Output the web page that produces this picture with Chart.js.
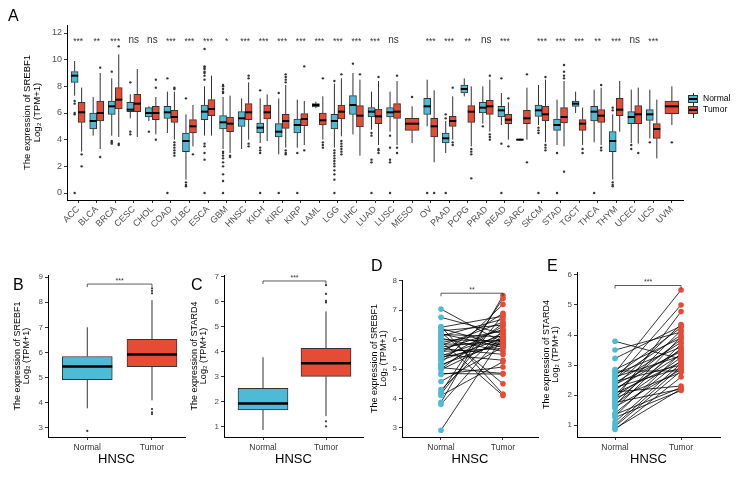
<!DOCTYPE html>
<html>
<head>
<meta charset="utf-8">
<script src="https://cdn.jsdelivr.net/npm/chart.js@4.4.1/dist/chart.umd.min.js"></script>
<style>
  body { margin: 0; background: #fff; width: 755px; height: 488px; position: relative; overflow: hidden;
         font-family: 'Liberation Sans', Arial, sans-serif; }
  canvas { position: absolute; }
  .tag { position: absolute; font-size: 16px; line-height: 16px; color: #000; }
  .legend { position: absolute; left: 688px; top: 93px; font-size: 8.5px; color: #000; }
  .legend .row { height: 11px; line-height: 11px; display: flex; align-items: center; }
  .key { position: relative; display: inline-block; width: 8px; height: 6px; border: 1px solid #333; margin-right: 5px; }
  .key::after { content: ''; position: absolute; left: 0; right: 0; top: 2.5px; height: 1.5px; background: #000; }
  .key::before { content: ''; position: absolute; left: 3.5px; top: -3px; width: 1px; height: 14px; background: #333; z-index: -1; }
</style>
</head>
<body>
<canvas id="cA" width="755" height="245" style="left:0;top:0"></canvas>
<canvas id="cB" width="190" height="225" style="left:0;top:250px"></canvas>
<canvas id="cC" width="180" height="225" style="left:185px;top:250px"></canvas>
<canvas id="cD" width="180" height="225" style="left:365px;top:250px"></canvas>
<canvas id="cE" width="215" height="225" style="left:540px;top:250px"></canvas>

<div class="tag" style="left:8px;top:8px">A</div>
<div class="tag" style="left:13px;top:277px">B</div>
<div class="tag" style="left:191px;top:277px">C</div>
<div class="tag" style="left:371px;top:258px">D</div>
<div class="tag" style="left:547px;top:258px">E</div>

<div class="legend">
  <div class="row"><span class="key" style="background:#4DBBD5"></span>Normal</div>
  <div class="row"><span class="key" style="background:#E64B35"></span>Tumor</div>
</div>

<script>
const BLUE = '#4DBBD5';
const RED = '#E64B35';
const FONT = "'Liberation Sans', Arial, sans-serif";

// ── Panel A data: SREBF1 across TCGA cancers ─────────────────────────────────
const cancers = ['ACC','BLCA','BRCA','CESC','CHOL','COAD','DLBC','ESCA','GBM','HNSC','KICH',
  'KIRC','KIRP','LAML','LGG','LIHC','LUAD','LUSC','MESO','OV','PAAD','PCPG','PRAD','READ',
  'SARC','SKCM','STAD','TGCT','THCA','THYM','UCEC','UCS','UVM'];
const signif = ['***','**','***','ns','ns','***','***','***','*','***','***','***','***','***',
  '***','***','***','ns','','***','***','**','ns','***','','***','***','***','**','***','ns','***',''];
// [lower whisker, q1, median, q3, upper whisker]
const normalBox = [
  [7.3, 8.3, 8.8, 9.1, 9.9], [4.3, 4.8, 5.4, 6.0, 7.2], [4.3, 5.9, 6.5, 6.9, 8.6],
  [5.6, 6.1, 6.25, 6.8, 7.4], [5.4, 5.7, 6.0, 6.4, 6.5], [4.5, 5.6, 6.05, 6.5, 7.6],
  [1.0, 3.1, 3.9, 4.5, 5.9], [4.3, 5.5, 6.1, 6.6, 8.0], [3.3, 4.8, 5.3, 5.8, 7.2],
  [3.3, 5.0, 5.6, 6.1, 7.1], [3.75, 4.5, 4.9, 5.25, 7.1], [2.9, 4.2, 4.6, 5.2, 7.1],
  [3.4, 4.5, 5.1, 5.55, 7.0], [6.35, 6.45, 6.6, 6.7, 6.85], [3.4, 4.8, 5.4, 5.9, 8.2],
  [4.4, 5.9, 6.6, 7.3, 9.0], [4.75, 5.7, 6.1, 6.4, 7.6], [4.6, 5.7, 6.05, 6.4, 7.6],
  null, [5.0, 5.9, 6.5, 7.1, 8.5], [3.0, 3.75, 4.1, 4.5, 5.4],
  [7.25, 7.5, 7.8, 8.1, 8.6], [5.2, 6.0, 6.4, 6.8, 8.0], [5.1, 5.7, 6.2, 6.5, 7.5],
  [3.95, 3.97, 4.0, 4.05, 4.08], [5.1, 5.75, 6.2, 6.6, 8.1], [3.6, 4.7, 5.1, 5.55, 7.0],
  [6.0, 6.5, 6.7, 6.9, 7.6], [3.8, 5.4, 6.1, 6.5, 7.75], [1.0, 3.1, 3.9, 4.6, 5.9],
  [3.75, 5.2, 5.7, 6.1, 7.75], [4.1, 5.45, 5.9, 6.25, 7.75], null
];
const tumorBox = [
  [3.1, 5.3, 6.05, 6.8, 7.9], [3.3, 5.4, 6.0, 6.9, 9.0], [4.2, 6.3, 7.0, 7.9, 10.4],
  [4.2, 6.1, 6.7, 7.4, 9.3], [4.4, 5.5, 6.0, 6.5, 7.2], [4.0, 5.3, 5.7, 6.2, 7.6],
  [3.5, 4.5, 5.0, 5.5, 6.6], [4.3, 5.8, 6.3, 7.0, 8.8], [3.0, 4.6, 5.2, 5.7, 7.3],
  [4.0, 5.5, 6.05, 6.7, 8.3], [3.9, 5.55, 6.05, 6.6, 7.4], [3.4, 4.85, 5.4, 5.9, 8.1],
  [3.6, 5.05, 5.55, 5.95, 6.9], [4.0, 5.1, 5.45, 6.0, 7.25], [4.25, 5.55, 6.1, 6.6, 8.6],
  [2.8, 4.95, 5.8, 6.55, 8.5], [3.6, 5.2, 5.75, 6.3, 8.4], [3.6, 5.6, 6.1, 6.7, 8.4],
  [3.75, 4.7, 5.2, 5.6, 6.5], [2.3, 4.2, 5.0, 5.6, 7.7], [4.0, 5.0, 5.4, 5.75, 7.25],
  [3.5, 5.3, 6.1, 6.55, 8.0], [4.6, 5.9, 6.5, 6.95, 8.5], [4.0, 5.2, 5.5, 5.9, 6.8],
  [4.0, 5.2, 5.6, 6.2, 7.9], [3.8, 5.4, 5.9, 6.5, 8.5], [3.5, 5.25, 5.7, 6.4, 8.4],
  [3.6, 4.7, 5.2, 5.5, 6.4], [3.6, 5.3, 5.8, 6.25, 7.9], [4.6, 5.8, 6.25, 7.1, 8.4],
  [3.7, 5.2, 5.9, 6.55, 7.9], [2.6, 4.1, 4.8, 5.2, 7.0], [5.1, 5.95, 6.5, 6.9, 8.0]
];
const normalOut = [
  [6.9, 6.7, 6.0, 5.9, 0], [], [9.1, 3.9, 3.8, 3.7], [8.3, 4.6, 4.4], [4.6], [8.6, 0],
  [7.1, 0.8, 0.6, 0.5], [10.8, 9.5, 9.4, 9.3, 9.1, 9.0, 8.8, 8.5, 3.7, 3.5, 3.0, 2.5, 0],
  [8.1, 8.0, 7.8, 7.6, 7.5, 3.1, 3.0, 2.8, 2.6, 2.3, 2.0, 1.4, 0.9, 0], [],
  [7.7, 3.4, 3.2, 3.0, 0], [7.5, 0], [3.0, 0], [],
  [8.4, 3.2, 3.0, 2.8, 2.6, 2.4, 2.2, 2.0, 1.7, 1.4, 1.0, 0], [9.7],
  [4.5, 4.3, 2.5, 2.3, 0], [4.3, 3.4, 2.5, 2.3, 0], [], [0], [5.9, 5.6, 0], [], [5.0],
  [8.6, 3.7, 0], [], [4.9, 4.7, 4.5, 0], [3.0, 0], [], [0], [6.4, 6.2, 0.8, 0.6, 0.5],
  [3.6, 3.3], [3.8], []
];
const tumorOut = [
  [2.9, 2.0], [9.4, 2.7], [11.0, 3.7, 3.6], [], [8.5, 7.9, 4.0],
  [7.9, 7.8, 3.8, 3.6, 3.4, 3.2, 3.0, 2.8], [2.9], [], [2.8, 2.7], [8.8, 8.6, 3.7, 3.5], [],
  [8.9, 8.7, 8.5, 8.3, 3.2, 3.0, 2.9], [9.5, 3.2], [8.6, 3.8, 3.6, 3.4],
  [8.9, 3.9, 3.7, 3.5, 3.3, 3.1, 2.9], [8.9], [8.7, 3.3, 3.2, 3.0], [8.8, 3.4, 3.0], [7.2],
  [0], [7.9, 3.8, 3.6], [3.3, 3.1, 2.9, 1.1], [8.8, 4.4, 4.2, 4.0], [7.1, 3.5], [8.9, 2.3],
  [8.7, 3.6, 3.4, 3.2], [9.6, 9.1, 8.8, 8.6, 1.6], [3.3, 3.0], [8.1, 3.4, 3.2], [], [3.0], [], [3.8]
];

// ── Panels B-E data: HNSC ────────────────────────────────────────────────────
const groups = ['Normal', 'Tumor'];
const srebf1Box = [[3.78, 4.92, 5.44, 5.84, 7.0], [4.1, 5.44, 5.92, 6.52, 8.08]];
const srebf1Out = [[2.88], [8.55, 8.45, 8.35, 3.75, 3.62, 3.55]];
const stard4Box = [[0.86, 1.67, 1.92, 2.53, 3.78], [1.42, 3.01, 3.54, 4.14, 5.62]];
const stard4Out = [[], [6.67, 6.32, 6.04, 5.98, 1.21, 1.01]];

const pairSrebf1Normal = [7.04, 6.76, 6.45, 6.42, 6.38, 6.3, 6.25, 6.2, 6.18, 6.12, 6.05, 6.0, 5.95,
  5.9, 5.85, 5.8, 5.75, 5.7, 5.65, 5.6, 5.55, 5.5, 5.45, 5.4, 5.35, 5.3, 5.2, 5.15, 5.1, 5.05, 5.0,
  4.98, 4.85, 4.82, 4.58, 4.3, 4.2, 4.15, 4.1, 3.87, 3.8, 2.92];
const pairSrebf1Tumor = [5.9, 6.2, 4.15, 6.8, 5.8, 6.5, 4.5, 5.75, 6.1, 6.7, 5.6, 5.95, 4.1, 6.3,
  5.85, 6.6, 6.0, 5.5, 6.35, 5.7, 6.9, 5.3, 6.15, 5.8, 6.45, 6.05, 7.2, 5.9, 6.25, 4.85, 6.55, 6.0,
  4.83, 5.07, 5.75, 6.3, 7.4, 6.85, 5.25, 7.5, 6.2, 6.1];
const pairStard4Normal = [3.79, 3.5, 3.22, 2.85, 2.8, 2.75, 2.7, 2.65, 2.6, 2.55, 2.5, 2.45, 2.4,
  2.35, 2.3, 2.25, 2.2, 2.15, 2.1, 2.05, 2.0, 1.95, 1.9, 1.85, 1.8, 1.75, 1.7, 1.65, 1.6, 1.55, 1.4,
  1.35, 1.3, 1.25, 1.1, 1.0, 0.95, 0.88, 0.85];
const pairStard4Tumor = [3.2, 4.1, 4.3, 3.9, 2.8, 5.5, 3.6, 4.25, 3.3, 4.0, 5.0, 3.0, 3.75, 3.45,
  4.35, 2.9, 3.5, 3.85, 2.3, 3.1, 4.15, 3.35, 2.75, 4.78, 3.55, 2.2, 3.25, 3.95, 2.85, 3.7, 3.15,
  2.25, 3.4, 2.15, 3.05, 2.95, 2.8, 2.2, 2.6];

// ── Chart defaults ────────────────────────────────────────────────────────────
Chart.defaults.font.family = FONT;
Chart.defaults.animation = false;
Chart.defaults.events = [];
Chart.defaults.plugins.legend.display = false;
Chart.defaults.plugins.tooltip.enabled = false;

// ── Box plot pieces (whiskers, medians, outliers) + significance marks ───────
const boxPlot = {
  id: 'boxPlot',
  beforeDatasetsDraw(chart) {
    const { ctx } = chart;
    const y = chart.scales.y;
    ctx.save();
    ctx.strokeStyle = '#333';
    ctx.lineWidth = 1;
    chart.data.datasets.forEach((ds, di) => {
      if (!ds.stats) return;
      chart.getDatasetMeta(di).data.forEach((el, j) => {
        const s = ds.stats[j];
        if (!s) return;
        ctx.beginPath();
        ctx.moveTo(el.x, y.getPixelForValue(s[0]));
        ctx.lineTo(el.x, y.getPixelForValue(s[1]));
        ctx.moveTo(el.x, y.getPixelForValue(s[3]));
        ctx.lineTo(el.x, y.getPixelForValue(s[4]));
        ctx.stroke();
      });
    });
    ctx.restore();
  },
  afterDatasetsDraw(chart, args, opts) {
    const { ctx } = chart;
    const x = chart.scales.x, y = chart.scales.y;
    ctx.save();
    chart.data.datasets.forEach((ds, di) => {
      if (!ds.stats) return;
      chart.getDatasetMeta(di).data.forEach((el, j) => {
        const s = ds.stats[j];
        if (!s) return;
        const half = el.width / 2;
        ctx.strokeStyle = '#000';
        ctx.lineWidth = opts.medianWidth || 2;
        ctx.beginPath();
        ctx.moveTo(el.x - half, y.getPixelForValue(s[2]));
        ctx.lineTo(el.x + half, y.getPixelForValue(s[2]));
        ctx.stroke();
        ctx.fillStyle = '#333';
        (ds.outliers[j] || []).forEach(v => {
          ctx.beginPath();
          ctx.arc(el.x, y.getPixelForValue(v), opts.dotRadius || 1.2, 0, Math.PI * 2);
          ctx.fill();
        });
      });
    });
    ctx.fillStyle = '#333';
    ctx.textAlign = 'center';
    ctx.textBaseline = 'middle';
    if (opts.labels) {
      opts.labels.forEach((t, i) => {
        ctx.font = (t === 'ns' ? 10 : 8.5) + 'px ' + FONT;
        ctx.fillText(t, x.getPixelForValue(i), y.getPixelForValue(opts.labelY) + (t === 'ns' ? -1 : 1));
      });
    }
    if (opts.bracket) {
      const b = opts.bracket;
      const x1 = x.getPixelForValue(1), x2 = x.getPixelForValue(2), yy = y.getPixelForValue(b.y);
      ctx.strokeStyle = '#333';
      ctx.lineWidth = 0.8;
      ctx.beginPath();
      ctx.moveTo(x1, yy + 3); ctx.lineTo(x1, yy); ctx.lineTo(x2, yy); ctx.lineTo(x2, yy + 3);
      ctx.stroke();
      ctx.font = '7px ' + FONT;
      ctx.fillText(b.text, (x1 + x2) / 2, yy - 3);
    }
    ctx.restore();
  }
};

// ── Axis helpers ──────────────────────────────────────────────────────────────
function yAxis(min, max, ticks, width, title, titleSize, titleTop, lineHeight, tickSize = 8) {
  return {
    type: 'linear', min, max,
    afterBuildTicks: s => { s.ticks = ticks.map(v => ({ value: v })); },
    afterFit: s => { s.width = width; },
    border: { color: '#000', width: 1 },
    grid: { drawOnChartArea: false, drawTicks: true, tickLength: 3, color: '#333' },
    ticks: { color: '#4d4d4d', font: { size: tickSize }, padding: 2 },
    title: { display: true, text: title, color: '#000',
             font: { size: titleSize, lineHeight: lineHeight + 'px' },
             padding: { top: titleTop, bottom: 0 } }
  };
}

function xAxisHnsc(min, max) {
  return {
    type: 'linear', min, max, offset: false,
    afterBuildTicks: s => { s.ticks = [1, 2].map(v => ({ value: v })); },
    afterFit: s => { s.height = 38; },
    border: { color: '#000', width: 1 },
    grid: { offset: false, drawOnChartArea: false, drawTicks: true, tickLength: 3, color: '#333' },
    ticks: { color: '#333', font: { size: 8.5 }, padding: 3, maxRotation: 0,
             callback: v => groups[v - 1] },
    title: { display: true, text: 'HNSC', color: '#000',
             font: { size: 13, lineHeight: '14px' }, padding: { top: 0, bottom: 9 } }
  };
}

const srebf1Title = ['The expression of SREBF1', 'Log\u2082 (TPM+1)'];
const stard4Title = ['The expression of STARD4', 'Log\u2082 (TPM+1)'];

// ── Panel A ───────────────────────────────────────────────────────────────────
const pairIdx = cancers.map((c, i) => normalBox[i] !== null);
function boxData(box, keep) {
  return cancers.map((c, i) => ({ x: i, y: box[i] && keep(i) ? [box[i][1], box[i][3]] : null }));
}
const barStyle = { borderColor: '#333', borderWidth: 1, borderSkipped: false, skipNull: true };

new Chart(document.getElementById('cA'), {
  type: 'bar',
  data: {
    datasets: [
      { ...barStyle, label: 'Normal', backgroundColor: BLUE, barThickness: 7,
        data: boxData(normalBox, i => true),
        stats: normalBox, outliers: normalOut },
      { ...barStyle, label: 'Tumor', backgroundColor: RED, barThickness: 7,
        data: boxData(tumorBox, i => pairIdx[i]),
        stats: tumorBox.map((b, i) => pairIdx[i] ? b : null),
        outliers: tumorOut.map((o, i) => pairIdx[i] ? o : []) },
      { ...barStyle, label: 'Tumor only', backgroundColor: RED, barThickness: 14,
        data: boxData(tumorBox, i => !pairIdx[i]),
        stats: tumorBox.map((b, i) => pairIdx[i] ? null : b),
        outliers: tumorOut.map((o, i) => pairIdx[i] ? [] : o) }
    ]
  },
  options: {
    responsive: false,
    layout: { padding: { top: 25, right: 72, left: 0, bottom: 0 } },
    scales: {
      x: {
        type: 'linear', min: -0.6, max: 32.6, offset: false,
        afterBuildTicks: s => { s.ticks = cancers.map((c, i) => ({ value: i })); },
        afterFit: s => { s.height = 45; },
        border: { color: '#000', width: 1 },
        grid: { offset: false, drawOnChartArea: false, drawTicks: true, tickLength: 3, color: '#333' },
        ticks: { color: '#4d4d4d', font: { size: 9 }, padding: 1,
                 minRotation: 45, maxRotation: 45, autoSkip: false, callback: v => cancers[v] }
      },
      y: yAxis(-0.525, 12.6, [0, 2, 4, 6, 8, 10, 12], 67, srebf1Title, 9.5, 23, 9.5, 9)
    },
    plugins: { boxPlot: { labels: signif, labelY: 11.4, medianWidth: 2, dotRadius: 1.2 } }
  },
  plugins: [boxPlot]
});

// ── Panels B and C: HNSC box plots ───────────────────────────────────────────
function hnscBox(id, box, out, yMin, yMax, yTicks, yWidth, padRight, xMin, xMax, title, titleTop, bracket) {
  new Chart(document.getElementById(id), {
    type: 'bar',
    data: {
      datasets: [{
        ...barStyle, label: 'HNSC', backgroundColor: [BLUE, RED], barThickness: 50,
        data: groups.map((g, i) => ({ x: i + 1, y: [box[i][1], box[i][3]] })),
        stats: box, outliers: out
      }]
    },
    options: {
      responsive: false,
      layout: { padding: { top: 25, right: padRight, left: 0, bottom: 0 } },
      scales: {
        x: xAxisHnsc(xMin, xMax),
        y: yAxis(yMin, yMax, yTicks, yWidth, title, 9, titleTop, 9)
      },
      plugins: { boxPlot: { bracket, medianWidth: 2.5, dotRadius: 1.1 } }
    },
    plugins: [boxPlot]
  });
}

hnscBox('cB', srebf1Box, srebf1Out, 2.64, 9.08, [3, 4, 5, 6, 7, 8, 9], 48, 5, 0.393, 2.51,
  srebf1Title, 13.5, { y: 8.72, text: '***' });
hnscBox('cC', stard4Box, stard4Out, 0.58, 7.08, [1, 2, 3, 4, 5, 6, 7], 39, 2, 0.381, 2.587,
  stard4Title, 5.5, { y: 6.84, text: '***' });

// ── Panels D and E: paired samples ───────────────────────────────────────────
function paired(id, normal, tumor, yMin, yMax, yTicks, yWidth, padRight, padTop, xMin, xMax, title, titleTop, bracket) {
  const lines = normal.map((n, i) => ({
    data: [{ x: 1, y: n }, { x: 2, y: tumor[i] }],
    showLine: true, borderColor: '#000', borderWidth: 0.8, pointRadius: 0
  }));
  new Chart(document.getElementById(id), {
    type: 'scatter',
    data: {
      datasets: [
        { label: 'Normal', data: normal.map(v => ({ x: 1, y: v })), backgroundColor: BLUE,
          borderWidth: 0, pointRadius: 2.8 },
        { label: 'Tumor', data: tumor.map(v => ({ x: 2, y: v })), backgroundColor: RED,
          borderWidth: 0, pointRadius: 2.8 },
        ...lines
      ]
    },
    options: {
      responsive: false,
      layout: { padding: { top: padTop, right: padRight, left: 0, bottom: 0 } },
      scales: {
        x: xAxisHnsc(xMin, xMax),
        y: yAxis(yMin, yMax, yTicks, yWidth, title, 9, titleTop, 8.5)
      },
      plugins: { boxPlot: { bracket } }
    },
    plugins: [boxPlot]
  });
}

paired('cD', pairSrebf1Normal, pairSrebf1Tumor, 2.69, 8.03, [3, 4, 5, 6, 7, 8], 37, 7, 30,
  0.371, 2.565, srebf1Title, 5.5, { y: 7.58, text: '**' });
paired('cE', pairStard4Normal, pairStard4Tumor, 0.6, 6.1, [1, 2, 3, 4, 5, 6], 37, 35, 22,
  0.424, 2.59, stard4Title, 2.5, { y: 5.65, text: '***' });
</script>
</body>
</html>
